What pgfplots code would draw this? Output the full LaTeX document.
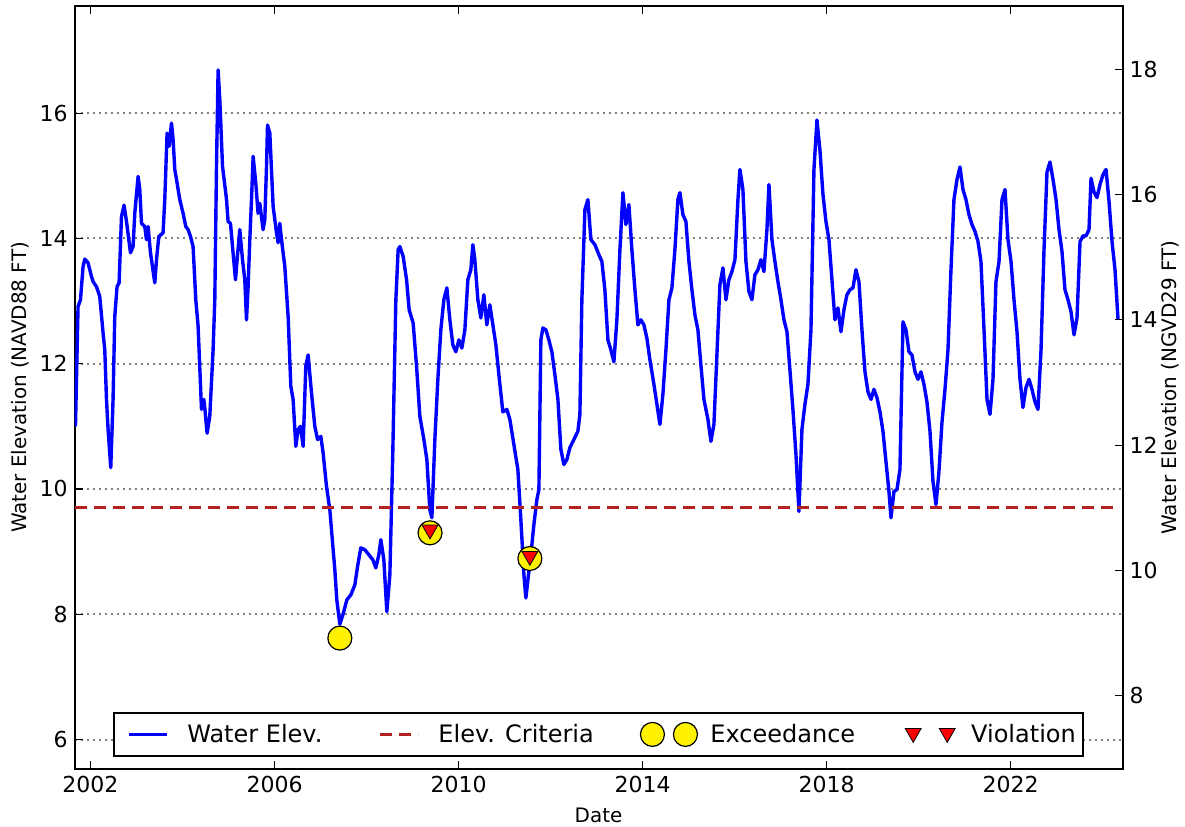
\documentclass[border=0pt]{standalone}
\usepackage{fontspec}
\setmainfont{DejaVu Sans}
\usepackage{pgfplots}
\usepackage{pgfplotstable}
\pgfplotsset{compat=1.18}
\definecolor{critred}{RGB}{178,34,34}

\pgfplotstableread{
year value
2001.674 11.00
2001.730 12.91
2001.783 13.02
2001.839 13.55
2001.876 13.67
2001.948 13.61
2002.022 13.39
2002.057 13.31
2002.130 13.23
2002.202 13.07
2002.274 12.49
2002.311 12.22
2002.348 11.43
2002.383 10.95
2002.441 10.34
2002.491 11.43
2002.528 12.75
2002.578 13.23
2002.622 13.29
2002.674 14.35
2002.730 14.53
2002.783 14.27
2002.870 13.77
2002.926 13.87
2002.963 14.40
2003.035 14.99
2003.072 14.78
2003.109 14.24
2003.180 14.19
2003.217 13.98
2003.252 14.19
2003.304 13.77
2003.398 13.29
2003.435 13.66
2003.485 14.03
2003.578 14.09
2003.615 14.62
2003.665 15.68
2003.709 15.47
2003.761 15.84
2003.796 15.57
2003.833 15.10
2003.870 14.94
2003.941 14.62
2004.013 14.40
2004.072 14.19
2004.122 14.14
2004.174 14.03
2004.230 13.87
2004.289 13.02
2004.339 12.60
2004.413 11.27
2004.463 11.43
2004.485 11.29
2004.535 10.89
2004.593 11.16
2004.665 12.22
2004.702 13.02
2004.739 15.15
2004.774 16.69
2004.811 16.21
2004.870 15.15
2004.957 14.62
2004.991 14.27
2005.043 14.24
2005.087 13.87
2005.152 13.34
2005.187 13.66
2005.246 14.14
2005.304 13.66
2005.354 13.34
2005.391 12.70
2005.426 13.23
2005.463 13.98
2005.500 14.62
2005.535 15.31
2005.593 14.88
2005.643 14.40
2005.680 14.56
2005.752 14.14
2005.789 14.30
2005.826 15.15
2005.848 15.81
2005.898 15.68
2005.970 14.51
2006.043 14.09
2006.078 13.93
2006.115 14.24
2006.152 13.98
2006.224 13.55
2006.296 12.75
2006.354 11.64
2006.404 11.43
2006.463 10.68
2006.513 10.95
2006.565 11.00
2006.622 10.68
2006.680 11.96
2006.730 12.14
2006.804 11.53
2006.876 11.00
2006.935 10.79
2007.007 10.84
2007.057 10.57
2007.130 10.04
2007.202 9.67
2007.311 8.71
2007.354 8.23
2007.420 7.84
2007.485 7.99
2007.572 8.23
2007.659 8.31
2007.746 8.47
2007.811 8.79
2007.876 9.06
2007.963 9.03
2008.050 8.95
2008.137 8.87
2008.202 8.74
2008.267 8.95
2008.311 9.19
2008.376 8.87
2008.441 8.04
2008.507 8.63
2008.572 10.63
2008.637 13.02
2008.687 13.82
2008.724 13.87
2008.796 13.71
2008.870 13.34
2008.926 12.86
2009.013 12.65
2009.087 11.96
2009.159 11.16
2009.246 10.79
2009.311 10.47
2009.376 9.67
2009.420 9.54
2009.485 10.79
2009.550 11.75
2009.615 12.54
2009.680 13.02
2009.746 13.21
2009.811 12.70
2009.876 12.30
2009.941 12.19
2010.007 12.38
2010.072 12.25
2010.137 12.54
2010.202 13.34
2010.267 13.50
2010.311 13.90
2010.354 13.66
2010.420 13.02
2010.485 12.73
2010.550 13.10
2010.615 12.62
2010.680 12.94
2010.746 12.62
2010.811 12.30
2010.898 11.67
2010.963 11.23
2011.050 11.27
2011.115 11.11
2011.202 10.71
2011.289 10.31
2011.354 9.51
2011.420 8.63
2011.463 8.26
2011.507 8.55
2011.572 8.95
2011.637 9.43
2011.702 9.83
2011.746 9.99
2011.789 12.38
2011.833 12.57
2011.898 12.54
2011.963 12.38
2012.028 12.19
2012.093 11.83
2012.159 11.43
2012.224 10.63
2012.289 10.39
2012.354 10.47
2012.420 10.66
2012.507 10.79
2012.593 10.92
2012.637 11.19
2012.680 13.02
2012.746 14.46
2012.811 14.62
2012.876 13.98
2012.963 13.90
2013.050 13.74
2013.115 13.63
2013.180 13.18
2013.246 12.38
2013.311 12.22
2013.376 12.03
2013.441 12.70
2013.507 13.82
2013.572 14.73
2013.637 14.22
2013.702 14.54
2013.767 13.82
2013.833 13.18
2013.898 12.62
2013.963 12.70
2014.028 12.62
2014.093 12.41
2014.159 12.06
2014.246 11.67
2014.311 11.35
2014.376 11.03
2014.441 11.51
2014.507 12.22
2014.572 13.02
2014.637 13.21
2014.702 13.82
2014.767 14.62
2014.811 14.73
2014.876 14.38
2014.941 14.27
2015.007 13.63
2015.072 13.18
2015.137 12.78
2015.202 12.54
2015.267 11.98
2015.333 11.43
2015.420 11.11
2015.485 10.76
2015.550 11.03
2015.615 12.14
2015.680 13.26
2015.746 13.53
2015.811 13.02
2015.876 13.34
2015.941 13.47
2016.007 13.66
2016.072 14.62
2016.115 15.10
2016.180 14.78
2016.246 13.63
2016.311 13.15
2016.376 13.02
2016.441 13.42
2016.507 13.50
2016.572 13.66
2016.637 13.47
2016.702 14.14
2016.746 14.86
2016.811 13.98
2016.876 13.63
2016.941 13.31
2017.007 13.02
2017.072 12.70
2017.137 12.51
2017.202 11.90
2017.267 11.27
2017.333 10.55
2017.398 9.64
2017.463 10.95
2017.528 11.35
2017.593 11.67
2017.659 12.54
2017.724 15.10
2017.789 15.89
2017.854 15.41
2017.920 14.70
2017.985 14.27
2018.050 13.98
2018.115 13.34
2018.180 12.70
2018.246 12.89
2018.311 12.51
2018.376 12.86
2018.441 13.10
2018.507 13.18
2018.572 13.21
2018.637 13.50
2018.702 13.31
2018.767 12.54
2018.833 11.87
2018.898 11.55
2018.963 11.43
2019.028 11.59
2019.093 11.46
2019.159 11.23
2019.224 10.92
2019.289 10.44
2019.354 9.96
2019.398 9.54
2019.463 9.96
2019.528 9.99
2019.593 10.31
2019.659 12.67
2019.724 12.54
2019.789 12.19
2019.854 12.14
2019.920 11.87
2019.985 11.75
2020.050 11.87
2020.115 11.67
2020.180 11.39
2020.246 10.92
2020.311 10.12
2020.376 9.75
2020.441 10.28
2020.507 11.07
2020.572 11.59
2020.637 12.22
2020.702 13.50
2020.767 14.62
2020.833 14.94
2020.898 15.14
2020.963 14.78
2021.028 14.62
2021.093 14.38
2021.159 14.22
2021.224 14.11
2021.289 13.95
2021.354 13.63
2021.420 12.54
2021.485 11.43
2021.550 11.19
2021.615 11.75
2021.680 13.31
2021.746 13.63
2021.811 14.62
2021.876 14.78
2021.941 13.98
2022.007 13.63
2022.072 13.02
2022.137 12.51
2022.202 11.75
2022.267 11.30
2022.333 11.62
2022.398 11.75
2022.463 11.59
2022.528 11.39
2022.593 11.27
2022.659 12.22
2022.724 13.82
2022.789 15.06
2022.854 15.22
2022.920 14.94
2022.985 14.62
2023.050 14.14
2023.115 13.79
2023.180 13.18
2023.246 13.02
2023.311 12.83
2023.376 12.46
2023.441 12.73
2023.507 13.95
2023.572 14.04
2023.637 14.04
2023.702 14.14
2023.746 14.96
2023.811 14.74
2023.876 14.65
2023.941 14.86
2024.007 15.02
2024.072 15.10
2024.137 14.59
2024.202 13.95
2024.267 13.50
2024.333 12.70
}\waterdata

\begin{document}
\begin{tikzpicture}
\begin{axis}[
  name=main,
  scale only axis,
  width=523.95bp, height=381.5bp,
  xmin=2001.655, xmax=2024.43,
  ymin=5.53, ymax=17.71,
  xtick={2002,2006,2010,2014,2018,2022},
  xticklabels={2002,2006,2010,2014,2018,2022},
  ytick={6,8,10,12,14,16},
  xtick pos=both, ytick pos=left,
  tick align=inside,
  major tick length=4bp,
  ymajorgrids,
  grid style={black!50, line width=1bp, dash pattern=on 1bp off 2bp},
  axis line style={line width=1bp},
  every tick/.style={black, line width=0.6bp},
  tick label style={font=\fontsize{11bp}{13bp}\selectfont},
  /pgf/number format/assume math mode=true,
  label style={font=\fontsize{12bp}{14bp}\selectfont},
  every axis y label/.style={at={(axis description cs:-0.0521,0.5)}, rotate=90, anchor=center},
  every axis x label/.style={at={(axis description cs:0.5,-0.0603)}, anchor=center},
  xlabel={Date},
  ylabel={Water Elevation (NAVD88 FT)},
  legend columns=4,
  legend cell align=left,
  legend style={
    at={(axis description cs:0.5,0.0157)}, anchor=south,
    draw=black, line width=1bp, fill=white,
    font=\fontsize{12bp}{14bp}\selectfont,
    inner xsep=1.5bp, inner ysep=3.5bp,
    /tikz/every even column/.append style={column sep=21bp},
  },
]
\addplot[blue, line width=1.7bp, line join=round,
  legend image code/.code={\path[draw=none, fill=none] (-6bp,-6bp) rectangle (27bp,6bp);
    \draw[blue, line width=1.5bp] (0bp,0bp) -- (19bp,0bp);}]
  table[x=year, y=value]{\waterdata};
\addlegendentry{Water Elev.}

\addplot[critred, line width=1.5bp, dash pattern=on 6bp off 3.5bp,
  legend image code/.code={\path[draw=none, fill=none] (-6bp,-6bp) rectangle (27bp,6bp);
    \draw[critred, line width=1.5bp, dash pattern=on 6bp off 3.5bp] (0bp,0bp) -- (19bp,0bp);}]
  coordinates {(2001.674,9.7) (2024.333,9.7)};
\addlegendentry{Elev. Criteria}

\addplot[only marks, mark=*, mark size=6bp,
  mark options={fill=yellow, draw=black, line width=0.6bp},
  legend image code/.code={\path[draw=none, fill=none] (-6bp,-6bp) rectangle (27bp,6bp);
    \draw[fill=yellow, draw=black, line width=0.6bp] (0bp,0bp) circle[radius=6bp] (16.5bp,0bp) circle[radius=6bp];}]
  coordinates {(2007.42,7.62) (2009.38,9.30) (2011.55,8.89)};
\addlegendentry{Exceedance}

\addplot[only marks, mark=triangle*, mark size=4.6bp,
  mark options={fill=red, draw=black, line width=0.4bp, rotate=180},
  legend image code/.code={\path[draw=none, fill=none] (-6bp,-6bp) rectangle (27bp,6bp);
    \draw[fill=red, draw=black, line width=0.4bp] (-4bp,3bp) -- (4bp,3bp) -- (0bp,-4bp) -- cycle
      (13bp,3bp) -- (21bp,3bp) -- (17bp,-4bp) -- cycle;}]
  coordinates {(2009.38,9.35) (2011.55,8.93)};
\addlegendentry{Violation}

\coordinate (bl) at (rel axis cs:0,0);
\coordinate (tr) at (rel axis cs:1,1);
\end{axis}

\begin{axis}[
  scale only axis,
  width=523.95bp, height=381.5bp,
  xmin=2001.655, xmax=2024.43,
  ymin=6.83, ymax=19.01,
  axis x line=none,
  axis y line*=right,
  ytick={8,10,12,14,16,18},
  ytick pos=right, yticklabel pos=right,
  tick align=inside,
  major tick length=4bp,
  axis line style={line width=1bp},
  every tick/.style={black, line width=0.6bp},
  tick label style={font=\fontsize{11bp}{13bp}\selectfont},
  /pgf/number format/assume math mode=true,
  label style={font=\fontsize{12bp}{14bp}\selectfont},
  every axis y label/.style={at={(axis description cs:1.0453,0.5)}, rotate=90, anchor=center},
  ylabel={Water Elevation (NGVD29 FT)},
]
\addplot[draw=none] coordinates {(2010,10)};
\end{axis}

\pgfresetboundingbox
\path[use as bounding box] ([shift={(-37.3bp,-29bp)}]bl) rectangle ([shift={(31.25bp,3bp)}]tr);
\end{tikzpicture}
\end{document}
